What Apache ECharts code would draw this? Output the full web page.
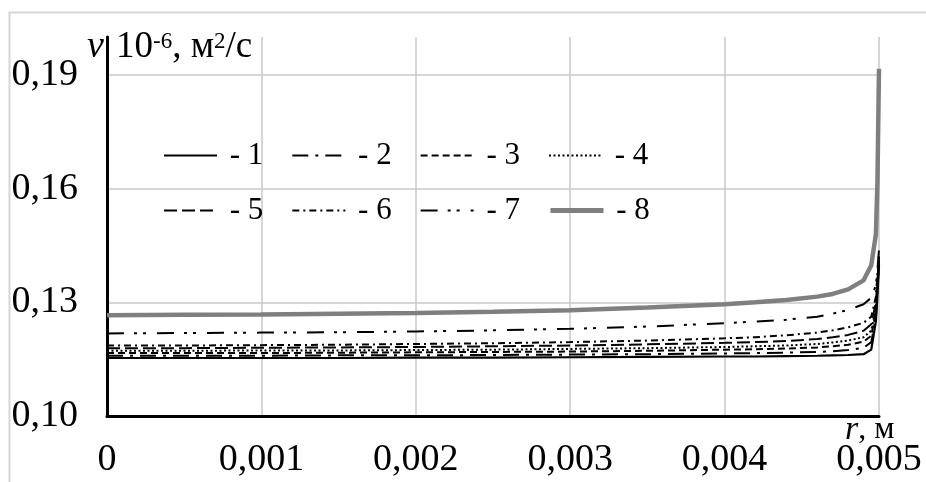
<!DOCTYPE html>
<html>
<head>
<meta charset="utf-8">
<script src="https://cdn.jsdelivr.net/npm/echarts@6/dist/echarts.min.js"></script>
<style>
html,body{margin:0;padding:0;background:#fff;}
#c{width:926px;height:482px;}
</style>
</head>
<body>
<div id="c"></div>
<script>
// radius r, m
var rValues = [0, 0.0005, 0.001, 0.0015, 0.002, 0.0025, 0.003, 0.0035, 0.004, 0.0042, 0.0044, 0.0046, 0.0047, 0.0048, 0.0049, 0.00495, 0.00498, 0.00499, 0.005];
// nu * 10^-6, m^2/s
var curve1 = [0.1153,0.1153,0.1153,0.1153,0.1154,0.1154,0.1155,0.1156,0.1157,0.1157,0.1158,0.1159,0.1160,0.1161,0.1163,0.1175,0.1250,0.1320,0.1400];
var curve2 = [0.1159,0.1159,0.1159,0.1160,0.1160,0.1161,0.1162,0.1163,0.1165,0.1166,0.1167,0.1169,0.1171,0.1174,0.1180,0.1195,0.1260,0.1330,0.1405];
var curve3 = [0.1166,0.1166,0.1166,0.1167,0.1168,0.1169,0.1170,0.1172,0.1175,0.1176,0.1178,0.1181,0.1184,0.1188,0.1196,0.1212,0.1275,0.1340,0.1410];
var curve4 = [0.1172,0.1172,0.1173,0.1173,0.1174,0.1175,0.1177,0.1179,0.1182,0.1184,0.1186,0.1190,0.1194,0.1199,0.1208,0.1225,0.1285,0.1350,0.1415];
var curve5 = [0.1179,0.1179,0.1180,0.1181,0.1182,0.1184,0.1186,0.1189,0.1193,0.1195,0.1198,0.1203,0.1208,0.1214,0.1225,0.1242,0.1300,0.1360,0.1420];
var curve6 = [0.1186,0.1186,0.1187,0.1188,0.1190,0.1192,0.1195,0.1199,0.1205,0.1208,0.1213,0.1220,0.1226,0.1234,0.1246,0.1262,0.1315,0.1375,0.1430];
var curve7 = [0.1218,0.1219,0.1220,0.1221,0.1223,0.1226,0.1230,0.1236,0.1245,0.1249,0.1254,0.1262,0.1270,0.1280,0.1295,0.1312,0.1345,0.1385,0.1440];
var curve8 = [0.1266,0.1267,0.1268,0.1270,0.1272,0.1275,0.1279,0.1286,0.1295,0.1300,0.1306,0.1315,0.1322,0.1334,0.1358,0.1398,0.1480,0.1620,0.1916];
var seriesNames = ['1','2','3','4','5','6','7','8'];
var seriesValues = [curve1, curve2, curve3, curve4, curve5, curve6, curve7, curve8];

var FONT = '"Liberation Serif","Times New Roman",serif';
var styles = [
  {color:'#000', width:2.2, type:'solid'},
  {color:'#000', width:2, type:[16,7,3,7]},
  {color:'#000', width:2, type:[7,4]},
  {color:'#000', width:2, type:[2,2.5]},
  {color:'#000', width:2, type:[13,5]},
  {color:'#000', width:2, type:[7,4,2,4]},
  {color:'#000', width:2, type:[17,10,3,6,3,11]},
  {color:'#7f7f7f', width:4.5, type:'solid'}
];

var series = seriesNames.map(function(n, i){
  return {
    name: n, type: 'line', symbol: 'none', showSymbol: false, smooth: false,
    data: rValues.map(function(x, k){ return [x, seriesValues[i][k]]; }),
    lineStyle: {color: styles[i].color, width: styles[i].width, type: styles[i].type},
    itemStyle: {color: styles[i].color},
    z: i === 7 ? 3 : 2,
    animation: false
  };
});

function legendFor(names, top){
  return {
    data: names.map(function(n, j){
      return {name: n, lineStyle: {width: n === '8' ? 5 : 2}};
    }),
    left: 163, top: top, padding: 0,
    itemWidth: 53, itemHeight: 14, itemGap: 28,
    itemStyle: {opacity: 0},
    textStyle: {fontFamily: FONT, fontSize: 31, color:'#000', lineHeight: 30},
    formatter: function(name){ return ' - ' + name; },
    selectedMode: false
  };
}

var chart = echarts.init(document.getElementById('c'), null, {renderer:'canvas'});
chart.setOption({
  backgroundColor: '#fff',
  animation: false,
  grid: {left: 107, right: 47, top: 37, bottom: 66, containLabel: false},
  legend: [legendFor(['1','2','3','4'], 140), legendFor(['5','6','7','8'], 195)],
  xAxis: {
    type: 'value', min: 0, max: 0.005, interval: 0.001,
    axisLine: {show: true, onZero: false, lineStyle: {color:'#000', width: 3}},
    axisTick: {show: false},
    splitLine: {show: true, showMinLine: false, showMaxLine: true, lineStyle: {color:'#c8c8c8', width: 1.5}},
    axisLabel: {
      fontFamily: FONT, fontSize: 38, color: '#000', margin: 25,
      formatter: function(v){ return v === 0 ? '0' : v.toFixed(3).replace('.', ','); }
    }
  },
  yAxis: {
    type: 'value', min: 0.1, max: 0.2, interval: 0.03,
    axisLine: {show: true, onZero: false, lineStyle: {color:'#000', width: 3}},
    axisTick: {show: false},
    splitLine: {show: true, showMinLine: false, showMaxLine: false, lineStyle: {color:'#c8c8c8', width: 1.5}},
    axisLabel: {
      fontFamily: FONT, fontSize: 38, color: '#000', margin: 29, showMaxLabel: false,
      formatter: function(v){ return v.toFixed(2).replace('.', ','); }
    }
  },
  graphic: [
    {type:'rect', left: 7, top: 10, shape:{width: 940, height: 490}, style:{fill:'none', stroke:'#d6d6d6', lineWidth: 2}, z: -10, silent: true},
    {type:'text', left: 87, top: 28, style:{text:'ν', font:'italic 38px ' + FONT, fill:'#000'}},
    {type:'text', left: 116, top: 28, style:{
      text:'{a|10}{s|-6}{a|, м}{s|2}{a|/с}', fill:'#000',
      rich:{
        a:{fontFamily: FONT, fontSize: 37, lineHeight: 38, verticalAlign:'bottom'},
        s:{fontFamily: FONT, fontSize: 23, lineHeight: 38, verticalAlign:'top', padding:[2,0,0,0]}
      }
    }},
    {type:'text', left: 845, top: 413, style:{
      text:'{i|r}{a|, м}', fill:'#000',
      rich:{
        i:{fontFamily: FONT, fontStyle:'italic', fontSize: 34},
        a:{fontFamily: FONT, fontSize: 32}
      }
    }}
  ],
  series: series
});
</script>
</body>
</html>
